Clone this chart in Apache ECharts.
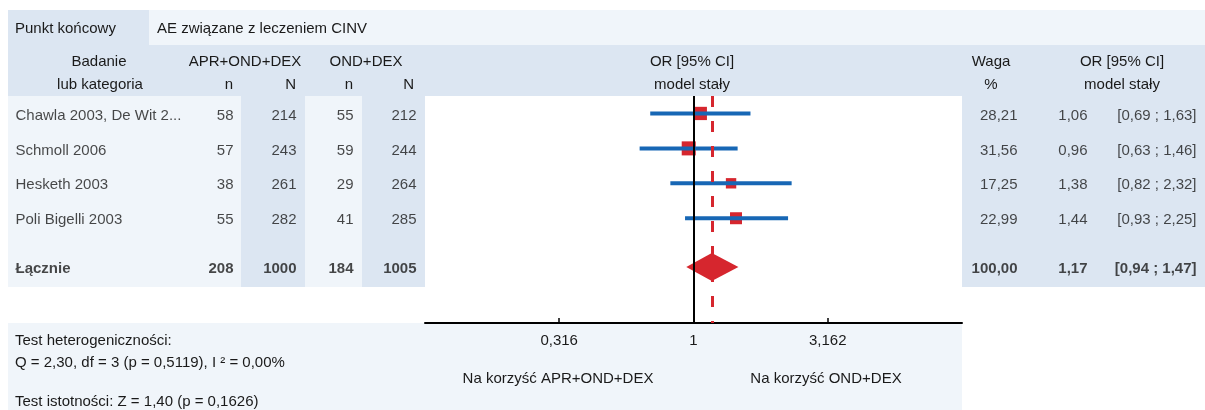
<!DOCTYPE html>
<html>
<head>
<meta charset="utf-8">
<script src="https://cdn.jsdelivr.net/npm/echarts@6/dist/echarts.min.js"></script>
<style>
html, body { margin: 0; padding: 0; background: #fff; }
#chart { width: 1205px; height: 410px; }
</style>
</head>
<body>
<div id="chart"></div>
<script>
// study rows
const studies = ['Chawla 2003, De Wit 2...', 'Schmoll 2006', 'Hesketh 2003', 'Poli Bigelli 2003']
const eventsApr = [58, 57, 38, 55]
const totalApr = [214, 243, 261, 282]
const eventsOnd = [55, 59, 29, 41]
const totalOnd = [212, 244, 264, 285]
const weights = [28.21, 31.56, 17.25, 22.99]
const oddsRatio = [1.06, 0.96, 1.38, 1.44]
const ciLower = [0.69, 0.63, 0.82, 0.93]
const ciUpper = [1.63, 1.46, 2.32, 2.25]

// pooled row
const pooledLabel = 'Łącznie'
const pooledCounts = [208, 1000, 184, 1005]
const pooledWeight = 100
const pooledOR = 1.17
const pooledLower = 0.94
const pooledUpper = 1.47

const axisTicks = [0.316, 1, 3.162]

const DARK = '#dce6f2'
const LIGHT = '#f0f5fa'
const RED = '#d6262e'
const BLUE = '#1767b5'
const INK = '#1a1a1a'
const FONT = '"Liberation Sans", Arial, sans-serif'
const SIZE = 15

const rows = studies.map((_, i) => i)
const pooledRow = 4.4
const fmt = (v, d) => v.toFixed(d).replace('.', ',')
const ci = (lo, hi) => `[${fmt(lo, 2)} ; ${fmt(hi, 2)}]`
const lg = Math.log10

const chart = echarts.init(document.getElementById('chart'))

const rect = (x, y, width, height, fill) => ({
  type: 'rect', z: 0, silent: true, shape: { x, y, width, height }, style: { fill }
})
const txt = (x, y, text, align = 'left') => ({
  type: 'text', z: 10, silent: true, x, y,
  style: {
    text, fill: INK, font: `${SIZE}px ${FONT}`,
    align, verticalAlign: 'middle', textAlign: align, textVerticalAlign: 'middle'
  }
})

// table columns: x anchor, alignment, values, pooled value
const columns = [
  { x: 15, align: 'left', values: studies, pooled: pooledLabel },
  { x: 234, align: 'right', values: eventsApr.map(String), pooled: String(pooledCounts[0]) },
  { x: 297, align: 'right', values: totalApr.map(String), pooled: String(pooledCounts[1]) },
  { x: 354, align: 'right', values: eventsOnd.map(String), pooled: String(pooledCounts[2]) },
  { x: 417, align: 'right', values: totalOnd.map(String), pooled: String(pooledCounts[3]) },
  { x: 1018, align: 'right', values: weights.map(w => fmt(w, 2)), pooled: fmt(pooledWeight, 2) },
  { x: 1088, align: 'right', values: oddsRatio.map(v => fmt(v, 2)), pooled: fmt(pooledOR, 2) },
  { x: 1197, align: 'right', values: studies.map((_, i) => ci(ciLower[i], ciUpper[i])), pooled: ci(pooledLower, pooledUpper) }
]

const tableSeries = columns.map(col => ({
  type: 'scatter',
  xAxisIndex: 1,
  yAxisIndex: 1,
  symbolSize: 1,
  silent: true,
  itemStyle: { color: 'transparent' },
  label: {
    show: true,
    position: col.align === 'right' ? 'left' : 'right',
    distance: 0,
    offset: [0, 2],
    color: INK,
    fontSize: SIZE,
    fontFamily: FONT,
    formatter: p => p.value[2]
  },
  data: col.values.map((v, i) => [col.x, rows[i], v]).concat([
    { value: [col.x, pooledRow, col.pooled], label: { fontWeight: 'bold' } }
  ])
}))

chart.setOption({
  animation: false,
  backgroundColor: '#fff',
  textStyle: { fontFamily: FONT },
  graphic: [
    rect(8, 10, 141, 35, DARK),
    rect(149, 10, 1056, 35, LIGHT),
    rect(8, 45, 1197, 51, DARK),
    rect(8, 96, 417, 191, LIGHT),
    rect(241, 96, 64, 191, DARK),
    rect(362, 96, 63, 191, DARK),
    rect(962, 96, 243, 191, DARK),
    rect(8, 323, 954, 87, LIGHT),
    txt(15, 29, 'Punkt końcowy'),
    txt(157, 29, 'AE związane z leczeniem CINV'),
    txt(99, 62, 'Badanie', 'center'),
    txt(100, 85, 'lub kategoria', 'center'),
    txt(245, 62, 'APR+OND+DEX', 'center'),
    txt(366, 62, 'OND+DEX', 'center'),
    txt(233, 85, 'n', 'right'),
    txt(296, 85, 'N', 'right'),
    txt(353, 85, 'n', 'right'),
    txt(414, 85, 'N', 'right'),
    txt(692, 62, 'OR [95% CI]', 'center'),
    txt(692, 85, 'model stały', 'center'),
    txt(991, 62, 'Waga', 'center'),
    txt(991, 85, '%', 'center'),
    txt(1122, 62, 'OR [95% CI]', 'center'),
    txt(1122, 85, 'model stały', 'center'),
    txt(15, 341, 'Test heterogeniczności:'),
    txt(15, 363, 'Q = 2,30, df = 3 (p = 0,5119), I ² = 0,00%'),
    txt(15, 402, 'Test istotności: Z = 1,40 (p = 0,1626)'),
    txt(558, 379, 'Na korzyść APR+OND+DEX', 'center'),
    txt(826, 379, 'Na korzyść OND+DEX', 'center')
  ],
  grid: [
    { left: 425, top: 96, width: 537, height: 227 },
    { left: 0, top: 96, width: 1205, height: 227 }
  ],
  xAxis: [
    {
      type: 'value',
      gridIndex: 0,
      min: -1,
      max: 1,
      axisLine: { show: true, onZero: false, lineStyle: { color: '#000', width: 2 } },
      axisTick: {
        show: true, inside: true, length: 5,
        customValues: axisTicks.map(lg),
        lineStyle: { color: '#000', width: 1.5 }
      },
      axisLabel: {
        customValues: axisTicks.map(lg),
        margin: 10,
        color: INK,
        fontSize: SIZE,
        fontFamily: FONT,
        formatter: v => String(+Math.pow(10, v).toPrecision(4)).replace('.', ',')
      },
      splitLine: { show: false }
    },
    { type: 'value', gridIndex: 1, min: 0, max: 1205, show: false }
  ],
  yAxis: [
    { type: 'value', gridIndex: 0, min: -0.5, max: 6, inverse: true, show: false },
    { type: 'value', gridIndex: 1, min: -0.5, max: 6, inverse: true, show: false }
  ],
  series: [
    {
      // reference lines: no effect (OR = 1) and pooled estimate
      type: 'line',
      z: 1,
      symbol: 'none',
      silent: true,
      data: [[lg(pooledOR), pooledRow]],
      markLine: {
        silent: true,
        symbol: ['none', 'none'],
        label: { show: false },
        data: [
          { xAxis: lg(pooledOR), lineStyle: { color: RED, width: 3, type: [11, 14] } },
          { xAxis: 0, lineStyle: { color: '#000', width: 2, type: 'solid' } }
        ]
      }
    },
    {
      type: 'custom',
      z: 3,
      silent: true,
      data: studies.map((_, i) => [lg(oddsRatio[i]), rows[i], lg(ciLower[i]), lg(ciUpper[i]), weights[i]]),
      renderItem: (params, api) => {
        const c = api.coord([api.value(0), api.value(1)])
        const lo = api.coord([api.value(2), api.value(1)])
        const hi = api.coord([api.value(3), api.value(1)])
        const s = 2.5 * Math.sqrt(api.value(4))
        return {
          type: 'group',
          children: [
            { type: 'rect', shape: { x: c[0] - s / 2, y: c[1] - s / 2, width: s, height: s }, style: { fill: RED } },
            { type: 'line', shape: { x1: lo[0], y1: lo[1], x2: hi[0], y2: hi[1] }, style: { stroke: BLUE, lineWidth: 4 } }
          ]
        }
      }
    },
    {
      type: 'custom',
      z: 3,
      silent: true,
      data: [[lg(pooledOR), pooledRow, lg(pooledLower), lg(pooledUpper)]],
      renderItem: (params, api) => {
        const c = api.coord([api.value(0), api.value(1)])
        const lo = api.coord([api.value(2), api.value(1)])
        const hi = api.coord([api.value(3), api.value(1)])
        const h = 14
        return {
          type: 'polygon',
          shape: { points: [[lo[0], c[1]], [c[0], c[1] - h], [hi[0], c[1]], [c[0], c[1] + h]] },
          style: { fill: RED }
        }
      }
    },
    ...tableSeries
  ]
})
</script>
</body>
</html>
